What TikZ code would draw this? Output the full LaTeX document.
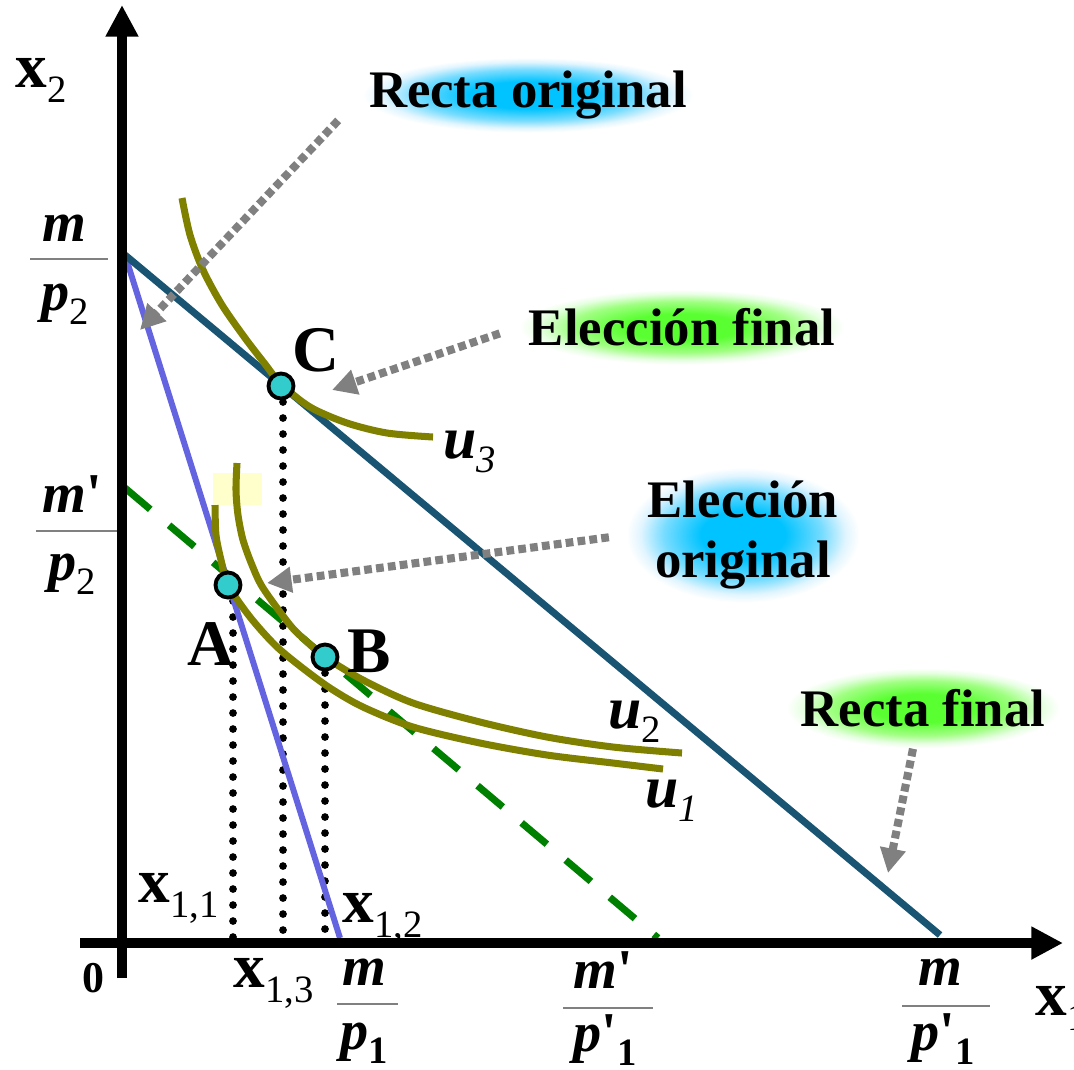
\documentclass[tikz,border=0pt]{standalone}
\usepackage{fontspec}
\setmainfont{Liberation Serif}
\usetikzlibrary{arrows.meta,positioning}

\definecolor{olivecurve}{RGB}{128,128,0}
\definecolor{dashgreen}{RGB}{0,128,0}
\definecolor{lineorig}{RGB}{100,100,225}
\definecolor{linefinal}{RGB}{25,85,115}
\definecolor{ptfill}{RGB}{51,204,204}
\definecolor{pointergray}{RGB}{128,128,128}
\definecolor{haloblue}{RGB}{0,195,255}
\definecolor{halobluesoft}{RGB}{120,220,255}
\definecolor{halobluepale}{RGB}{225,245,255}
\definecolor{halogreen}{RGB}{90,255,50}
\definecolor{halogreensoft}{RGB}{160,255,130}
\definecolor{halogreenpale}{RGB}{230,255,225}
\definecolor{stickyyellow}{RGB}{255,255,204}

\pgfdeclareradialshading{haloB}{\pgfpointorigin}{color(0bp)=(haloblue); color(9bp)=(haloblue); color(17bp)=(halobluesoft); color(22bp)=(halobluepale); color(25bp)=(white); color(50bp)=(white)}
\pgfdeclareradialshading{haloG}{\pgfpointorigin}{color(0bp)=(halogreen); color(9bp)=(halogreen); color(17bp)=(halogreensoft); color(22bp)=(halogreenpale); color(25bp)=(white); color(50bp)=(white)}

\newcommand{\lowsub}[1]{\raisebox{-0.25em}{\fontsize{11}{11}\selectfont\mdseries #1}}
\newcommand{\qt}{{\upshape\textquotesingle}}

\begin{document}
\begin{tikzpicture}[x=0.01cm, y=-0.01cm,
    axis/.style={line width=2.85pt, -{Triangle[length=9pt,width=8.8pt]}},
    budgetorig/.style={draw=lineorig, line width=1.7pt},
    budgetfinal/.style={draw=linefinal, line width=2pt},
    budgetnew/.style={draw=dashgreen, line width=2pt, dash pattern=on 9.4pt off 7pt},
    indiff/.style={draw=olivecurve, line width=2pt},
    guide/.style={line width=2.2pt, line cap=round, dash pattern=on 0pt off 4.55pt},
    pointer/.style={draw=pointergray, line width=2.3pt, dash pattern=on 2.2pt off 1.2pt, -{Triangle[length=7pt,width=7pt]}},
    choice/.style={circle, draw=black, line width=1.1pt, fill=ptfill, minimum size=0.25cm, inner sep=0pt},
    halo/.style={shade, shading=#1, minimum height=0.75cm, inner sep=0pt, align=center, font=\fontsize{15}{15}\selectfont\bfseries},
    axlabel/.style={anchor=base west, inner sep=0pt, font=\fontsize{18}{20}\selectfont\bfseries},
    ptlabel/.style={anchor=base west, inner sep=0pt, font=\fontsize{18.5}{20}\selectfont\bfseries},
    ulabel/.style={anchor=base west, inner sep=0pt, font=\fontsize{17}{20}\selectfont\bfseries\itshape},
    ratio/.style={anchor=base, inner sep=0pt, font=\fontsize{16}{18}\selectfont\bfseries\itshape},
    ratioline/.style={draw=gray, line width=0.5pt}]
    \useasboundingbox (0,0) rectangle (1074,1069);

    % axes and budget lines
    \coordinate (O) at (122,943);
    \coordinate (yTop) at (125,255);
    \coordinate (xOrig) at (340,938);
    \coordinate (xFinal) at (940,935);
    \coordinate (yNew) at (125,488);
    \coordinate (xNew) at (658,938);
    \coordinate (pA) at (228,585);
    \coordinate (pB) at (325,657);
    \coordinate (pC) at (281,386);

    \fill[stickyyellow] (213,473) rectangle (262,505);

    \draw[guide] ([xshift=0.05cm]pA) -- ([xshift=0.05cm]pA |- O);
    \draw[guide] ([xshift=0.02cm]pC) -- ([xshift=0.02cm]pC |- O);
    \draw[guide] (pB) -- (pB |- O);

    \draw[budgetorig] (yTop) -- (xOrig);
    \draw[budgetnew] (yNew) -- (xNew);
    \draw[budgetfinal] (yTop) -- (xFinal);

    % indifference curves
    \draw[indiff] plot[smooth] coordinates {(215,505) (216,535) (221,560) (228,585) (250,617) (275,645) (300,666) (330,688) (363,707) (413,727) (480,743) (547,755) (613,763) (663,769)};
    \draw[indiff] plot[smooth] coordinates {(237,463) (236,490) (238,515) (243,540) (252,565) (263,588) (290,625) (305,640) (325,657) (363,680) (413,703) (480,722) (547,737) (613,747) (682,753)};
    \draw[indiff] plot[smooth] coordinates {(182,198) (190,235) (203,270) (222,305) (245,338) (265,364) (281,384) (310,407) (347,423) (387,433) (433,437)};

    \draw[axis] (122,978) -- (122,5);
    \draw[axis] (80,943) -- (1063,943);

    % notes
    \node[halo=haloB, minimum width=3.3cm] (ro) at (528,95) {Recta original};
    \node[halo=haloG, minimum width=3.25cm] (ef) at (682,327) {Elección final};
    \node[halo=haloB, minimum width=2.33cm, minimum height=1.35cm] (eo) at (743,535) {Elección\\[2pt]original};
    \node[halo=haloG, minimum width=2.73cm, minimum height=0.8cm] (rf) at (923,708) {Recta final};

    \coordinate (roTip) at (140,330);
    \coordinate (efTip) at (332,390);
    \coordinate (eoTip) at (267,583);
    \coordinate (rfTip) at (888,873);
    \draw[pointer, shorten <=0.35cm] (ro.west) -- (roTip);
    \draw[pointer, shorten <=0.2cm] (ef.west) -- (efTip);
    \draw[pointer, shorten <=0.17cm] (eo.west) -- (eoTip);
    \draw[pointer] ([xshift=-0.1cm]rf.south) -- (rfTip);

    % choices
    \node[choice] (ptA) at (pA) {};
    \node[choice] (ptB) at (pB) {};
    \node[choice] (ptC) at (pC) {};
    \node[ptlabel] (labA) at (187,665) {A};
    \node[ptlabel] (labB) at (347,672) {B};
    \node[ptlabel] (labC) at (292,371) {C};

    \node[ulabel] (u3) at (443,458) {u\lowsub{3}};
    \node[ulabel] (u2) at (608,728) {u\lowsub{\upshape 2}};
    \node[ulabel] (u1) at (645,807) {u\lowsub{1}};

    % axis labels
    \node[axlabel] (x2) at (15,87) {x\lowsub{2}};
    \node[axlabel] (x1) at (1035,1015) {x\lowsub{1}};
    \node[axlabel] (x11) at (138,902) {x\lowsub{1,1}};
    \node[axlabel] (x12) at (342,922) {x\lowsub{1,2}};
    \node[axlabel] (x13) at (233,987) {x\lowsub{1,3}};
    \node[anchor=base west, inner sep=0pt, font=\fontsize{12.5}{14}\selectfont\bfseries] (zero) at (82,992) {0};

    % intercepts
    \node[ratio] (my) at (64,241) {m};
    \draw[ratioline] (30,259) -- (108,259);
    \node[ratio] (py) at (65,310) {p\lowsub{\upshape 2}};
    \node[ratio] (mny) at (72,512) {m\qt};
    \draw[ratioline] (36,531) -- (117,531);
    \node[ratio] (pny) at (72,580) {p\lowsub{\upshape 2}};
    \node[ratio] (mx) at (364,985) {m};
    \draw[ratioline] (337,1004) -- (398,1004);
    \node[ratio] (px) at (364,1049) {p\lowsub{\upshape\bfseries 1}};
    \node[ratio] (mnx) at (603,988) {m\qt};
    \draw[ratioline] (563,1008) -- (653,1008);
    \node[ratio] (pnx) at (605,1051) {p\qt\lowsub{\upshape\bfseries 1}};
    \node[ratio] (mfx) at (940,985) {m};
    \draw[ratioline] (902,1006) -- (990,1006);
    \node[ratio] (pfx) at (943,1050) {p\qt\lowsub{\upshape\bfseries 1}};
\end{tikzpicture}
\end{document}
